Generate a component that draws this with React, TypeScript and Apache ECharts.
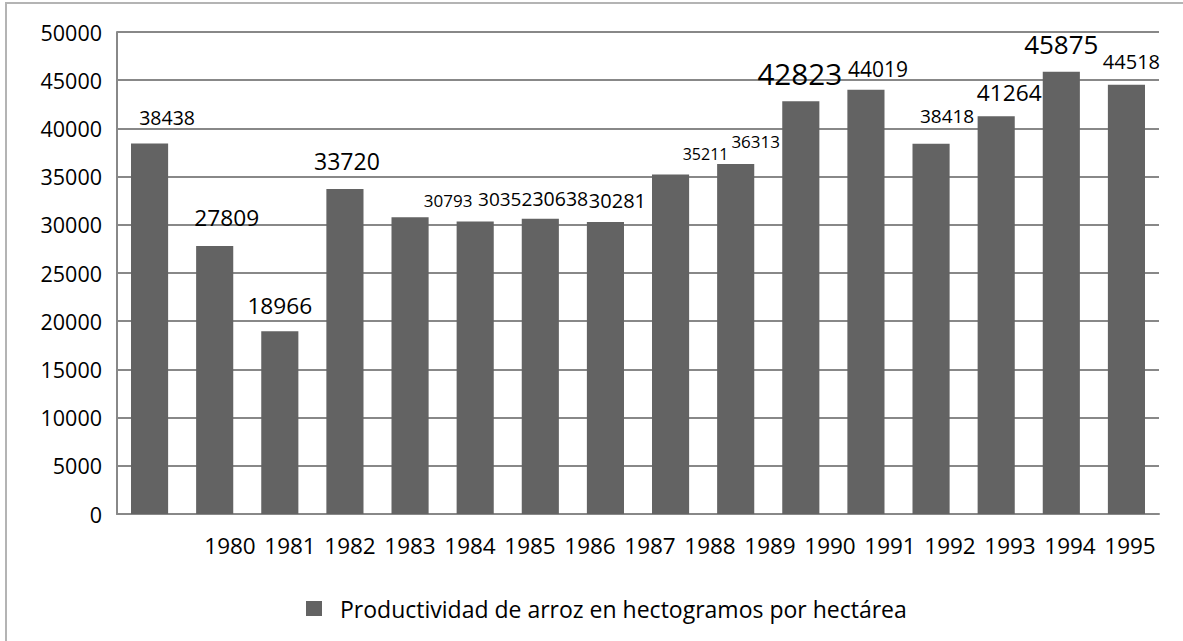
import React, { useEffect, useRef } from "react";
import * as echarts from "echarts";

const years = ["1980", "1981", "1982", "1983", "1984", "1985", "1986", "1987", "1988", "1989", "1990", "1991", "1992", "1993", "1994", "1995"];
const productividad = [38438, 27809, 18966, 33720, 30793, 30352, 30638, 30281, 35211, 36313, 42823, 44019, 38418, 41264, 45875, 44518];
const yTicks = { min: 0, max: 50000, interval: 5000 };
const seriesName = "Productividad de arroz en hectogramos por hectárea";

// label styling (font size, offset from bar-top centre) – hand-placed as in the source
const labelSizes = [19.5, 22.7, 22.7, 23, 17, 19, 19.5, 20, 16, 17, 29.7, 21, 19, 22.7, 26, 20];
const labelOffsets = [
  [17.5, -26], [12, -28], [0, -26], [2, -28], [38, -17], [30, -22], [20, -20], [12, -22],
  [35, -21], [20, -22], [-1, -28], [12, -21], [16, -28], [13, -24], [0, -28], [5, -23],
];

const FONT = "'Open Sans', sans-serif";

export default function App() {
  const ref = useRef<HTMLDivElement>(null);
  useEffect(() => {
    if (!ref.current) return;
    const chart = echarts.init(ref.current, null, { renderer: "svg" });
    chart.setOption({
      animation: false,
      backgroundColor: "#ffffff",
      textStyle: { fontFamily: FONT },
      graphic: [
        {
          type: "rect",
          shape: { x: 6, y: 3, width: 1200, height: 700 },
          style: { fill: "none", stroke: "#b4b4b4", lineWidth: 2 },
          silent: true,
        },
      ],
      legend: {
        data: [seriesName],
        left: 301,
        top: 592,
        itemWidth: 16,
        itemHeight: 15,
        icon: "rect",
        textStyle: { fontSize: 23, color: "#000", fontFamily: FONT, padding: [0, 0, 0, 13] },
      },
      grid: [
        { left: 117, right: 24, top: 32, bottom: 127, containLabel: false },
        { left: 200, right: 23, top: 520, height: 10, containLabel: false },
      ],
      xAxis: [
        {
          type: "category",
          data: years,
          gridIndex: 0,
          axisLine: { show: true, lineStyle: { color: "#888", width: 2 } },
          axisTick: { show: false },
          axisLabel: { show: false },
        },
        {
          type: "category",
          data: years,
          gridIndex: 1,
          axisLine: { show: false },
          axisTick: { show: false },
          axisLabel: { show: true, interval: 0, fontSize: 22.5, color: "#000", fontFamily: FONT, margin: 4 },
        },
      ],
      yAxis: [
        {
          type: "value",
          gridIndex: 0,
          min: yTicks.min,
          max: yTicks.max,
          interval: yTicks.interval,
          axisLine: { show: true, lineStyle: { color: "#888", width: 2 } },
          axisTick: { show: false },
          splitLine: { show: true, lineStyle: { color: "#888", width: 2 } },
          axisLabel: {
            fontSize: 21.5,
            color: "#000",
            fontFamily: FONT,
            margin: 15,
            formatter: (v: number) => String(v),
          },
        },
        { type: "value", gridIndex: 1, show: false },
      ],
      series: [
        {
          name: seriesName,
          type: "bar",
          xAxisIndex: 0,
          yAxisIndex: 0,
          barCategoryGap: "43%",
          itemStyle: { color: "#636363" },
          label: {
            show: true,
            position: "top",
            distance: 0,
            align: "center",
            verticalAlign: "middle",
            color: "#000",
            fontFamily: FONT,
          },
          data: productividad.map((v, i) => ({
            value: v,
            label: { fontSize: labelSizes[i], offset: labelOffsets[i] },
          })),
        },
      ],
    });
    return () => chart.dispose();
  }, []);
  return <div ref={ref} style={{ position: "fixed", left: 0, top: 0, width: 1183, height: 641 }} />;
}
